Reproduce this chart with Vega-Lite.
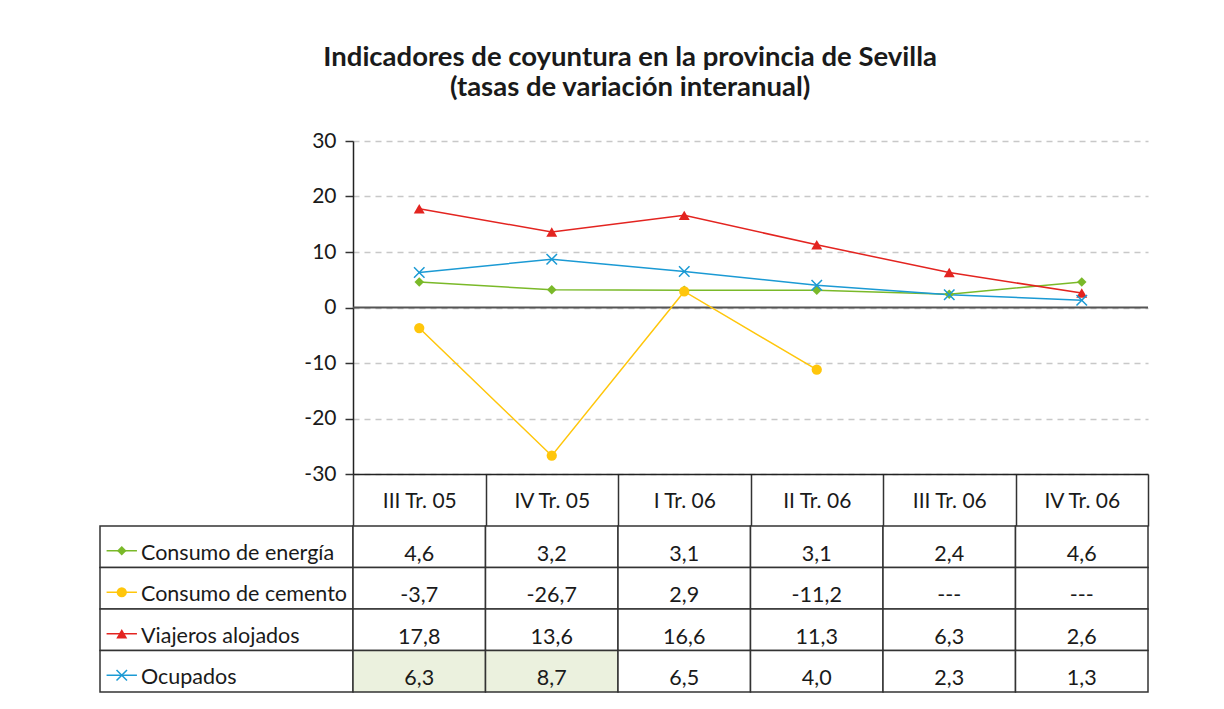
{
  "$schema": "https://vega.github.io/schema/vega-lite/v6.json",
  "background": "white",
  "padding": {"left": 99, "top": 43, "right": 60, "bottom": 10},
  "title": {
    "text": ["Indicadores de coyuntura en la provincia de Sevilla", "(tasas de variación interanual)"],
    "fontSize": 27.5,
    "fontWeight": "bold",
    "color": "#1a1a1a",
    "anchor": "middle",
    "lineHeight": 30,
    "offset": 29,
    "dx": 6
  },
  "datasets": {
    "d": [
      {"q": "III Tr. 05", "serie": "Consumo de energía", "v": 4.6},
      {"q": "IV Tr. 05", "serie": "Consumo de energía", "v": 3.2},
      {"q": "I Tr. 06", "serie": "Consumo de energía", "v": 3.1},
      {"q": "II Tr. 06", "serie": "Consumo de energía", "v": 3.1},
      {"q": "III Tr. 06", "serie": "Consumo de energía", "v": 2.4},
      {"q": "IV Tr. 06", "serie": "Consumo de energía", "v": 4.6},
      {"q": "III Tr. 05", "serie": "Consumo de cemento", "v": -3.7},
      {"q": "IV Tr. 05", "serie": "Consumo de cemento", "v": -26.7},
      {"q": "I Tr. 06", "serie": "Consumo de cemento", "v": 2.9},
      {"q": "II Tr. 06", "serie": "Consumo de cemento", "v": -11.2},
      {"q": "III Tr. 06", "serie": "Consumo de cemento", "v": null},
      {"q": "IV Tr. 06", "serie": "Consumo de cemento", "v": null},
      {"q": "III Tr. 05", "serie": "Viajeros alojados", "v": 17.8},
      {"q": "IV Tr. 05", "serie": "Viajeros alojados", "v": 13.6},
      {"q": "I Tr. 06", "serie": "Viajeros alojados", "v": 16.6},
      {"q": "II Tr. 06", "serie": "Viajeros alojados", "v": 11.3},
      {"q": "III Tr. 06", "serie": "Viajeros alojados", "v": 6.3},
      {"q": "IV Tr. 06", "serie": "Viajeros alojados", "v": 2.6},
      {"q": "III Tr. 05", "serie": "Ocupados", "v": 6.3},
      {"q": "IV Tr. 05", "serie": "Ocupados", "v": 8.7},
      {"q": "I Tr. 06", "serie": "Ocupados", "v": 6.5},
      {"q": "II Tr. 06", "serie": "Ocupados", "v": 4.0},
      {"q": "III Tr. 06", "serie": "Ocupados", "v": 2.3},
      {"q": "IV Tr. 06", "serie": "Ocupados", "v": 1.3}
    ]
  },
  "columns": 2,
  "spacing": {"row": 52, "column": 0},
  "bounds": "flush",
  "align": "each",
  "concat": [
    {
      "width": 253,
      "height": 333,
      "data": {"values": [{}]},
      "mark": {"type": "text", "text": ""}
    },
    {
      "width": 795,
      "height": 333,
      "data": {"name": "d"},
      "layer": [
        {
          "data": {"values": [{}]},
          "mark": {"type": "rule", "color": "#555555", "strokeWidth": 2},
          "encoding": {"y": {"datum": 0, "type": "quantitative"}}
        },
        {
          "mark": {"type": "line", "strokeWidth": 1.5},
          "encoding": {
            "x": {
              "field": "q", "type": "nominal", "bandPosition": 0.5,
              "sort": ["III Tr. 05", "IV Tr. 05", "I Tr. 06", "II Tr. 06", "III Tr. 06", "IV Tr. 06"],
              "scale": {"type": "band", "domain": ["III Tr. 05", "IV Tr. 05", "I Tr. 06", "II Tr. 06", "III Tr. 06", "IV Tr. 06"], "paddingInner": 0, "paddingOuter": 0},
              "axis": {
                "orient": "bottom", "title": null, "grid": false,
                "domainColor": "#222222", "domainWidth": 1.5,
                "tickColor": "#333333", "tickWidth": 1.5, "tickSize": 52, "tickBand": "extent",
                "labelFontSize": 21, "labelColor": "#1a1a1a", "labelAngle": 0,
                "labelPadding": -19, "labelBaseline": "alphabetic"
              }
            },
            "y": {
              "field": "v", "type": "quantitative",
              "scale": {"domain": [-30, 30], "nice": false, "zero": false},
              "axis": {
                "title": null, "values": [-30, -20, -10, 0, 10, 20, 30],
                "labelExpr": "replace(datum.label, '\u2212', '-')",
                "domainColor": "#222222", "domainWidth": 1.5,
                "tickColor": "#333333", "tickWidth": 1.5, "tickSize": 8,
                "labelFontSize": 21, "labelColor": "#1a1a1a", "labelPadding": 9,
                "grid": true, "gridColor": "#c8c8c8", "gridDash": [6, 5], "gridWidth": 1.5
              }
            },
            "color": {
              "field": "serie", "type": "nominal", "legend": null,
              "scale": {"domain": ["Consumo de energía", "Consumo de cemento", "Viajeros alojados", "Ocupados"], "range": ["#7ab929", "#ffc60b", "#e32420", "#1b9ad4"]}
            }
          }
        },
        {
          "transform": [{"filter": "datum.serie !== 'Ocupados' && isValid(datum.v)"}],
          "mark": {"type": "point", "filled": true, "opacity": 1},
          "encoding": {
            "x": {"field": "q", "type": "nominal", "bandPosition": 0.5},
            "y": {"field": "v", "type": "quantitative"},
            "color": {"field": "serie", "type": "nominal", "legend": null},
            "shape": {"field": "serie", "type": "nominal", "legend": null,
              "scale": {"domain": ["Consumo de energía", "Consumo de cemento", "Viajeros alojados"], "range": ["diamond", "circle", "triangle-up"]}},
            "size": {"field": "serie", "type": "nominal", "legend": null,
              "scale": {"domain": ["Consumo de energía", "Consumo de cemento", "Viajeros alojados"], "range": [90, 120, 110]}}
          }
        },
        {
          "transform": [{"filter": "datum.serie === 'Ocupados'"}],
          "mark": {"type": "point", "shape": "M-1,-1L1,1M-1,1L1,-1", "filled": false, "size": 110, "strokeWidth": 1.5, "color": "#1b9ad4", "opacity": 1},
          "encoding": {
            "x": {"field": "q", "type": "nominal", "bandPosition": 0.5},
            "y": {"field": "v", "type": "quantitative"}
          }
        }
      ]
    },
    {
      "width": 253,
      "height": 166,
      "data": {"name": "d"},
      "transform": [{"filter": "datum.q === 'III Tr. 05'"}],
      "encoding": {
        "y": {"field": "serie", "type": "nominal", "axis": null,
          "scale": {"domain": ["Consumo de energía", "Consumo de cemento", "Viajeros alojados", "Ocupados"], "paddingInner": 0, "paddingOuter": 0}}
      },
      "layer": [
        {"mark": {"type": "rect", "fill": "white", "stroke": "#333333", "strokeWidth": 1.5}},
        {
          "mark": {"type": "rule", "strokeWidth": 1.5, "yOffset": 4},
          "encoding": {
            "x": {"datum": 0.026, "type": "quantitative", "scale": {"domain": [0, 1], "nice": false, "zero": false}, "axis": null},
            "x2": {"datum": 0.146},
            "color": {"field": "serie", "type": "nominal", "legend": null,
              "scale": {"domain": ["Consumo de energía", "Consumo de cemento", "Viajeros alojados", "Ocupados"], "range": ["#7ab929", "#ffc60b", "#e32420", "#1b9ad4"]}}
          }
        },
        {
          "transform": [{"filter": "datum.serie !== 'Ocupados'"}],
          "mark": {"type": "point", "filled": true, "opacity": 1, "yOffset": 4},
          "encoding": {
            "x": {"datum": 0.086, "type": "quantitative"},
            "color": {"field": "serie", "type": "nominal", "legend": null},
            "shape": {"field": "serie", "type": "nominal", "legend": null,
              "scale": {"domain": ["Consumo de energía", "Consumo de cemento", "Viajeros alojados"], "range": ["diamond", "circle", "triangle-up"]}},
            "size": {"field": "serie", "type": "nominal", "legend": null,
              "scale": {"domain": ["Consumo de energía", "Consumo de cemento", "Viajeros alojados"], "range": [90, 120, 110]}}
          }
        },
        {
          "transform": [{"filter": "datum.serie === 'Ocupados'"}],
          "mark": {"type": "point", "shape": "M-1,-1L1,1M-1,1L1,-1", "filled": false, "size": 110, "strokeWidth": 1.5, "color": "#1b9ad4", "opacity": 1, "yOffset": 4},
          "encoding": {"x": {"datum": 0.086, "type": "quantitative"}}
        },
        {
          "mark": {"type": "text", "align": "left", "baseline": "alphabetic", "dy": 13, "fontSize": 21.5, "color": "#1a1a1a"},
          "encoding": {
            "x": {"datum": 0.162, "type": "quantitative"},
            "text": {"field": "serie", "type": "nominal"}
          }
        }
      ]
    },
    {
      "width": 795,
      "height": 166,
      "data": {"name": "d"},
      "transform": [
        {"calculate": "isValid(datum.v) ? replace(replace(format(datum.v, '.1f'), '.', ','), '\u2212', '-') : '---'", "as": "label"}
      ],
      "encoding": {
        "x": {"field": "q", "type": "nominal", "axis": null,
          "scale": {"domain": ["III Tr. 05", "IV Tr. 05", "I Tr. 06", "II Tr. 06", "III Tr. 06", "IV Tr. 06"], "paddingInner": 0, "paddingOuter": 0}},
        "y": {"field": "serie", "type": "nominal", "axis": null,
          "scale": {"domain": ["Consumo de energía", "Consumo de cemento", "Viajeros alojados", "Ocupados"], "paddingInner": 0, "paddingOuter": 0}}
      },
      "layer": [
        {
          "mark": {"type": "rect", "stroke": "#333333", "strokeWidth": 1.5},
          "encoding": {
            "fill": {
              "condition": {"test": "datum.serie === 'Ocupados' && (datum.q === 'III Tr. 05' || datum.q === 'IV Tr. 05')", "value": "#ebf1de"},
              "value": "white"
            }
          }
        },
        {
          "mark": {"type": "text", "fontSize": 21.5, "color": "#1a1a1a", "baseline": "alphabetic", "dy": 14},
          "encoding": {"text": {"field": "label", "type": "nominal"}}
        }
      ]
    }
  ],
  "config": {
    "font": "Lato",
    "view": {"stroke": null},
    "axis": {"labelFont": "Lato"},
    "title": {"font": "Lato"}
  }
}
